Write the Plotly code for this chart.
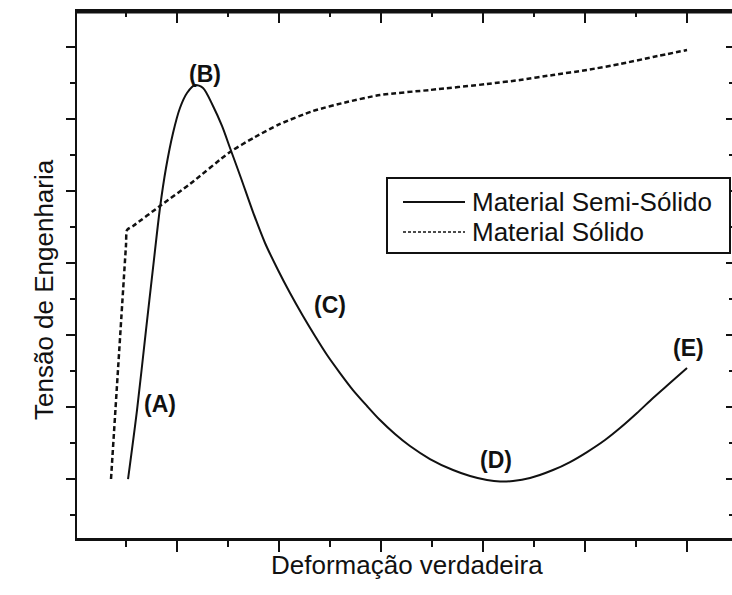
import plotly.graph_objects as go

# Semi-solid material: engineering stress vs true strain (arbitrary units)
semi_strain = [0.520, 0.608, 0.696, 0.765, 0.833, 0.892, 0.961, 1.029, 1.098, 1.176,
               1.255, 1.353, 1.441, 1.520, 1.627, 1.745, 1.863, 1.990, 2.108, 2.235,
               2.353, 2.471, 2.598, 2.725, 2.863, 2.990, 3.137, 3.284, 3.480, 3.706,
               3.873, 4.039, 4.167, 4.294, 4.461, 4.686, 4.853, 5.020, 5.196, 5.343,
               5.510, 5.667, 5.833, 6.000]
semi_stress = [1.000, 1.958, 3.069, 3.931, 4.764, 5.319, 5.806, 6.153, 6.361, 6.472,
               6.431, 6.181, 5.903, 5.597, 5.181, 4.708, 4.278, 3.903, 3.583, 3.264,
               2.986, 2.722, 2.472, 2.236, 2.014, 1.819, 1.625, 1.458, 1.278, 1.125,
               1.042, 0.986, 0.965, 0.972, 1.014, 1.125, 1.236, 1.375, 1.542, 1.708,
               1.917, 2.125, 2.333, 2.542]

# Solid material
solid_strain = [0.353, 0.500, 0.510, 0.569, 0.833, 1.127, 1.520, 1.765, 2.010, 2.333,
                2.667, 2.990, 3.480, 4.039, 4.363, 4.686, 5.020, 5.343, 5.667, 6.000]
solid_stress = [1.000, 4.250, 4.458, 4.514, 4.792, 5.097, 5.542, 5.750, 5.931, 6.111,
                6.236, 6.333, 6.403, 6.486, 6.542, 6.611, 6.681, 6.764, 6.861, 6.958]

# Stage labels
stage_text = ["(A)", "(B)", "(C)", "(D)", "(E)"]
stage_x = [0.83, 1.27, 2.50, 4.13, 6.01]
stage_y = [2.04, 6.63, 3.42, 1.26, 2.82]

series_names = ["Material Semi-Sólido", "Material Sólido"]
x_title = "Deformação verdadeira"
y_title = "Tensão de Engenharia"

# frame tick positions (major / minor)
x_major = [1, 2, 3, 4, 5, 6]
x_minor = [0.5, 1.5, 2.5, 3.5, 4.5, 5.5]
y_major = [1, 2, 3, 4, 5, 6, 7]
y_minor = [0.5, 1.5, 2.5, 3.5, 4.5, 5.5, 6.5]

W, H = 732, 595
L, R, T, B = 77, 0, 12, 57
PW, PH = W - L - R, H - T - B

X_RANGE = [0.0196, 6.441]
Y_RANGE = [0.181, 7.486]

FONT = "Liberation Sans, Arial, sans-serif"
INK = "#111111"


def px(xp):
    return (xp - L) / PW


def py(yp):
    return (H - B - yp) / PH


def fx(v):
    return (v - X_RANGE[0]) / (X_RANGE[1] - X_RANGE[0])


def fy(v):
    return (v - Y_RANGE[0]) / (Y_RANGE[1] - Y_RANGE[0])


fig = go.Figure()

fig.add_trace(go.Scatter(
    x=semi_strain, y=semi_stress, mode="lines", name=series_names[0],
    line=dict(color=INK, width=2, shape="spline", smoothing=0.8),
    showlegend=False,
))
fig.add_trace(go.Scatter(
    x=solid_strain, y=solid_stress, mode="lines", name=series_names[1],
    line=dict(color=INK, width=2.5, dash="5px,3px", shape="spline", smoothing=0.6),
    showlegend=False,
))

annotations = []
for t, xv, yv in zip(stage_text, stage_x, stage_y):
    annotations.append(dict(
        x=xv, y=yv, xref="x", yref="y", text=f"<b>{t}</b>", showarrow=False,
        font=dict(family=FONT, size=23, color=INK),
    ))

# axis titles
annotations.append(dict(
    x=px(407), y=py(582), xref="paper", yref="paper", text=x_title,
    showarrow=False, font=dict(family=FONT, size=26, color=INK),
))
annotations.append(dict(
    x=px(27), y=py(290), xref="paper", yref="paper", text=y_title,
    textangle=-90, showarrow=False, font=dict(family=FONT, size=26, color=INK),
))

shapes = []
# top edge of the frame
shapes.append(dict(type="line", xref="paper", yref="paper", x0=0, x1=1, y0=1, y1=1,
                   line=dict(color=INK, width=3)))
# inward ticks along the top and right edges of the frame
for xv in x_major + x_minor:
    ln = 11 if xv in x_major else 5
    shapes.append(dict(type="line", xref="paper", yref="paper", x0=fx(xv), x1=fx(xv),
                       y0=1, y1=py(T + ln), line=dict(color=INK, width=2)))
for yv in y_major + y_minor:
    ln = 6 if yv in y_major else 3
    shapes.append(dict(type="line", xref="paper", yref="paper", y0=fy(yv), y1=fy(yv),
                       x0=1, x1=px(W - ln), line=dict(color=INK, width=2)))

# legend
legend_rows = [202, 232]
shapes += [
    dict(type="rect", xref="paper", yref="paper",
         x0=px(387), x1=px(730), y0=py(253), y1=py(178),
         line=dict(color=INK, width=2), fillcolor="white", layer="above"),
    dict(type="line", xref="paper", yref="paper",
         x0=px(403), x1=px(465), y0=py(legend_rows[0]), y1=py(legend_rows[0]),
         line=dict(color=INK, width=2), layer="above"),
    dict(type="line", xref="paper", yref="paper",
         x0=px(403), x1=px(465), y0=py(legend_rows[1]), y1=py(legend_rows[1]),
         line=dict(color=INK, width=1.5, dash="3px,2px"), layer="above"),
]
for name, row in zip(series_names, legend_rows):
    annotations.append(dict(
        x=px(470), y=py(row), xref="paper", yref="paper", text=name,
        xanchor="left", yanchor="middle", showarrow=False,
        font=dict(family=FONT, size=26, color=INK),
    ))

common = dict(showgrid=False, zeroline=False, showticklabels=False,
              tickcolor=INK, tickwidth=1.5)

fig.update_layout(
    width=W, height=H,
    margin=dict(l=L, r=R, t=T, b=B, pad=0),
    paper_bgcolor="white", plot_bgcolor="white",
    showlegend=False,
    xaxis=dict(range=X_RANGE, showline=True, linecolor=INK, linewidth=2.5, mirror=True,
               ticks="outside", ticklen=11, tick0=0, dtick=1,
               minor=dict(ticks="outside", ticklen=6, dtick=0.5, tickcolor=INK, tickwidth=1.5),
               **common),
    yaxis=dict(range=Y_RANGE, showline=True, linecolor=INK, linewidth=2,
               ticks="outside", ticklen=9, tick0=0, dtick=1,
               minor=dict(ticks="outside", ticklen=5, dtick=0.5, tickcolor=INK, tickwidth=1.5),
               **common),
    annotations=annotations,
    shapes=shapes,
)

fig.write_html("out.html")
